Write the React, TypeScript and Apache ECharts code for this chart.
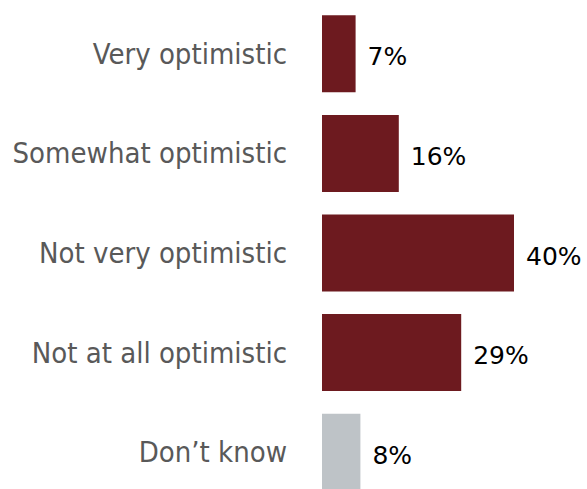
import React, { useEffect, useRef } from "react";
import * as echarts from "echarts";

const categories = ["Very optimistic", "Somewhat optimistic", "Not very optimistic", "Not at all optimistic", "Don\u2019t know"];
const values = [7, 16, 40, 29, 8];
const barColors = ["#6d1a1f", "#6d1a1f", "#6d1a1f", "#6d1a1f", "#bec3c7"];

export default function App() {
  const ref = useRef<HTMLDivElement>(null);
  useEffect(() => {
    document.body.style.margin = "0";
    const chart = echarts.init(ref.current!, null, { renderer: "svg" });
    chart.setOption({
      animation: false,
      grid: { left: 322, top: 4, width: 240, height: 498 },
      xAxis: { type: "value", min: 0, max: 50, show: false },
      yAxis: {
        type: "category",
        data: categories,
        inverse: true,
        axisLine: { show: false },
        axisTick: { show: false },
        axisLabel: { color: "#595959", fontSize: 29, fontFamily: "DejaVu Sans Condensed", margin: 35 },
      },
      series: [
        {
          type: "bar",
          barWidth: 77,
          data: values.map((v, i) => ({ value: v, itemStyle: { color: barColors[i] } })),
          label: {
            show: true,
            position: "right",
            distance: 12,
            offset: [0, 3],
            formatter: "{c}%",
            color: "#000",
            fontSize: 25,
            fontFamily: "DejaVu Sans",
          },
        },
      ],
    });
    return () => chart.dispose();
  }, []);
  return (
    <div style={{ width: 587, height: 489, overflow: "hidden" }}>
      <div ref={ref} style={{ width: 587, height: 520 }} />
    </div>
  );
}
